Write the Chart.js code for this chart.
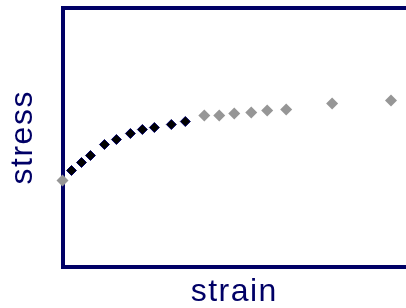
<!DOCTYPE html>
<html lang="en">
<head>
  <meta charset="UTF-8">
  <title>stress vs strain</title>
  <style>
    body, html {
      margin: 0;
      padding: 0;
      background: white;
    }
    #chart {
      display: block;
    }
  </style>
</head>
<body>
  <canvas id="chart" width="406" height="308"></canvas>

  <script src="https://cdn.jsdelivr.net/npm/chart.js"></script>
  <script>
    // measured points (strain, stress), arbitrary units
    var darkStrain = [0.09, 0.19, 0.28, 0.42, 0.54, 0.68, 0.80, 0.92, 1.09, 1.23];
    var darkStress = [0.96, 1.04, 1.11, 1.22, 1.27, 1.33, 1.37, 1.39, 1.42, 1.45];

    var greyStrain = [0.00, 1.42, 1.57, 1.72, 1.89, 2.05, 2.24, 2.70, 3.29];
    var greyStress = [0.86, 1.51, 1.51, 1.53, 1.54, 1.56, 1.57, 1.63, 1.66];

    var xRange = [0, 3.44];
    var yRange = [0, 2.585];

    var navy = '#000066';
    var labelFont = { family: '"Liberation Sans", Arial, sans-serif', size: 32, lineHeight: 1 };

    function toPoints(xs, ys) {
      return xs.map(function (x, i) { return { x: x, y: ys[i] }; });
    }

    // the original lettering is wide, spread it a little
    var wideText = {
      id: 'wideText',
      beforeDraw: function (c) { c.ctx.letterSpacing = '1.5px'; }
    };

    var ctx = document.getElementById('chart').getContext('2d');
    var chart = new Chart(ctx, {
      type: 'scatter',
      data: {
        datasets: [{
          label: 'data',
          data: toPoints(darkStrain, darkStress),
          pointStyle: 'rectRot',
          pointRadius: 5,
          backgroundColor: '#000000',
          borderColor: navy,
          borderWidth: 1,
          clip: false
        }, {
          label: 'extra',
          data: toPoints(greyStrain, greyStress),
          pointStyle: 'rectRot',
          pointRadius: 6,
          backgroundColor: '#969696',
          borderColor: '#969696',
          borderWidth: 0,
          clip: false
        }]
      },
      options: {
        responsive: false,
        animation: false,
        layout: { padding: { top: 8, right: 0, bottom: 0, left: 0 }, autoPadding: false },
        plugins: {
          legend: { display: false },
          tooltip: { enabled: false }
        },
        scales: {
          x: {
            type: 'linear',
            position: 'bottom',
            min: xRange[0],
            max: xRange[1],
            grid: { display: false, drawTicks: false },
            ticks: { display: false },
            border: { display: true, color: navy, width: 4 },
            title: {
              display: true,
              text: 'strain',
              color: navy,
              font: labelFont,
              padding: { top: 9.5, bottom: 0 }
            }
          },
          x2: {
            type: 'linear',
            position: 'top',
            min: 0,
            max: 1,
            grid: { display: false, drawTicks: false },
            ticks: { display: false },
            border: { display: true, color: navy, width: 4 }
          },
          y: {
            type: 'linear',
            position: 'left',
            min: yRange[0],
            max: yRange[1],
            grid: { display: false, drawTicks: false },
            ticks: { display: false },
            border: { display: true, color: navy, width: 4 },
            title: {
              display: true,
              text: 'stress',
              color: navy,
              font: labelFont,
              padding: { top: 6.7, bottom: 23.8 }
            }
          }
        }
      },
      plugins: [wideText]
    });
  </script>
</body>
</html>
